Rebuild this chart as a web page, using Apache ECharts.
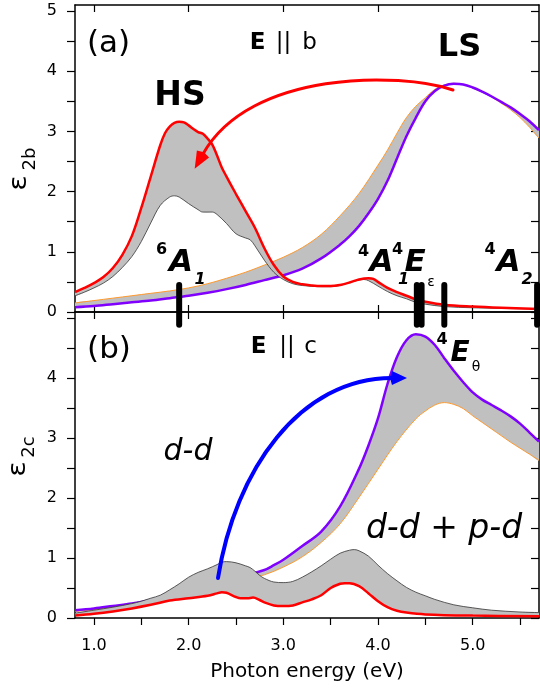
<!DOCTYPE html>
<html><head><meta charset="utf-8">
<script src="https://cdn.jsdelivr.net/npm/echarts@6/dist/echarts.min.js"></script>
<style>html,body{margin:0;padding:0;background:#fff}#c{width:540px;height:692px}</style>
</head><body><div id="c"></div>
<script>
const FONT = "'DejaVu Sans', 'Liberation Sans', Arial, sans-serif";
const SMOOTH = 0.35;

// ---------- Panel (a): E || b ----------
const hsB_red = [[0.8,0.33],[0.9,0.40],[1.0,0.48],[1.1,0.58],[1.2,0.73],[1.3,0.95],[1.4,1.26],[1.5,1.73],[1.6,2.25],[1.7,2.77],[1.75,2.97],[1.8,3.08],[1.85,3.14],[1.9,3.16],[1.95,3.15],[2.0,3.10],[2.05,3.04],[2.1,2.99],[2.15,2.96],[2.2,2.88],[2.25,2.78],[2.3,2.60],[2.35,2.40],[2.4,2.25],[2.5,1.96],[2.6,1.68],[2.7,1.40],[2.8,1.06],[2.9,0.78],[3.0,0.59],[3.1,0.50],[3.2,0.46],[3.3,0.44],[3.4,0.43],[3.5,0.43],[3.6,0.45],[3.7,0.49],[3.8,0.54],[3.9,0.56],[3.95,0.55],[4.0,0.50],[4.1,0.40],[4.2,0.33],[4.3,0.27],[4.4,0.21],[4.5,0.17],[4.7,0.12],[5.0,0.09],[5.3,0.07],[5.7,0.05]];
const hsB_black = [[0.8,0.27],[0.9,0.33],[1.0,0.40],[1.1,0.48],[1.2,0.59],[1.3,0.74],[1.4,0.92],[1.5,1.17],[1.6,1.48],[1.7,1.77],[1.8,1.91],[1.85,1.93],[1.9,1.91],[2.0,1.80],[2.1,1.70],[2.15,1.66],[2.25,1.66],[2.3,1.62],[2.4,1.47],[2.5,1.30],[2.6,1.23],[2.65,1.20],[2.7,1.10],[2.8,0.86],[2.9,0.66],[3.0,0.54],[3.1,0.47],[3.2,0.44],[3.4,0.42],[3.5,0.42],[3.6,0.44],[3.7,0.49],[3.8,0.53],[3.85,0.54],[3.9,0.52],[4.0,0.43],[4.1,0.34],[4.2,0.27],[4.3,0.22],[4.4,0.16],[4.5,0.13],[4.7,0.09],[5.0,0.07],[5.3,0.06],[5.7,0.05]];
const lsB_orange = [[0.8,0.15],[1.0,0.19],[1.2,0.23],[1.4,0.27],[1.6,0.31],[1.8,0.35],[2.0,0.40],[2.2,0.47],[2.4,0.56],[2.6,0.66],[2.8,0.78],[3.0,0.91],[3.2,1.07],[3.4,1.29],[3.6,1.60],[3.8,1.97],[4.0,2.44],[4.1,2.69],[4.2,2.97],[4.3,3.23],[4.4,3.42],[4.5,3.56],[4.6,3.70],[4.7,3.77],[4.8,3.80],[4.9,3.78],[5.0,3.72],[5.1,3.65],[5.2,3.57],[5.3,3.47],[5.4,3.36],[5.5,3.23],[5.6,3.07],[5.7,2.89]];
const lsB_purple = [[0.8,0.08],[1.0,0.10],[1.2,0.13],[1.4,0.16],[1.6,0.19],[1.8,0.23],[2.0,0.27],[2.2,0.32],[2.4,0.38],[2.6,0.45],[2.8,0.53],[3.0,0.61],[3.2,0.72],[3.4,0.89],[3.6,1.12],[3.7,1.26],[3.8,1.43],[3.9,1.64],[4.0,1.88],[4.1,2.18],[4.2,2.55],[4.3,2.92],[4.4,3.23],[4.5,3.50],[4.6,3.67],[4.7,3.76],[4.8,3.79],[4.9,3.78],[5.0,3.73],[5.1,3.66],[5.2,3.58],[5.3,3.49],[5.4,3.40],[5.5,3.29],[5.6,3.17],[5.7,3.02]];

// ---------- Panel (b): E || c ----------
const hsC_red = [[0.8,0.04],[1.0,0.07],[1.2,0.11],[1.4,0.16],[1.6,0.22],[1.8,0.29],[2.0,0.33],[2.2,0.37],[2.3,0.41],[2.35,0.43],[2.4,0.42],[2.5,0.35],[2.55,0.33],[2.62,0.33],[2.68,0.34],[2.75,0.30],[2.8,0.26],[2.9,0.21],[3.0,0.20],[3.1,0.21],[3.2,0.26],[3.3,0.31],[3.4,0.38],[3.5,0.50],[3.6,0.57],[3.65,0.58],[3.7,0.58],[3.8,0.53],[3.9,0.41],[4.0,0.28],[4.1,0.18],[4.2,0.12],[4.3,0.09],[4.5,0.06],[5.0,0.04],[5.7,0.03]];
const hsC_black = [[0.8,0.08],[1.0,0.13],[1.2,0.18],[1.4,0.24],[1.5,0.28],[1.6,0.33],[1.7,0.38],[1.8,0.47],[1.9,0.57],[2.0,0.68],[2.1,0.76],[2.2,0.82],[2.3,0.89],[2.35,0.93],[2.4,0.94],[2.5,0.92],[2.6,0.87],[2.65,0.84],[2.7,0.78],[2.75,0.71],[2.8,0.66],[2.9,0.60],[3.0,0.59],[3.1,0.61],[3.2,0.68],[3.3,0.77],[3.4,0.87],[3.5,0.98],[3.6,1.08],[3.7,1.13],[3.75,1.14],[3.8,1.12],[3.9,1.03],[4.0,0.88],[4.1,0.74],[4.2,0.62],[4.3,0.51],[4.4,0.43],[4.5,0.37],[4.6,0.31],[4.8,0.22],[5.0,0.17],[5.2,0.13],[5.5,0.10],[5.7,0.09]];
const lsC_orange = [[0.8,0.11],[1.0,0.14],[1.2,0.18],[1.4,0.22],[1.6,0.27],[1.8,0.34],[2.0,0.42],[2.2,0.50],[2.4,0.58],[2.6,0.65],[2.8,0.72],[3.0,0.85],[3.2,1.02],[3.4,1.26],[3.6,1.57],[3.8,2.01],[4.0,2.48],[4.2,2.94],[4.4,3.32],[4.5,3.45],[4.6,3.55],[4.7,3.59],[4.8,3.56],[4.9,3.49],[5.0,3.37],[5.1,3.26],[5.2,3.15],[5.3,3.04],[5.4,2.93],[5.5,2.83],[5.6,2.73],[5.7,2.63]];
const lsC_purple = [[0.8,0.13],[1.0,0.16],[1.2,0.20],[1.4,0.24],[1.6,0.30],[1.8,0.38],[2.0,0.46],[2.2,0.55],[2.4,0.64],[2.6,0.71],[2.8,0.80],[2.9,0.88],[3.0,0.97],[3.2,1.20],[3.4,1.44],[3.6,1.86],[3.8,2.49],[3.9,2.88],[4.0,3.33],[4.1,3.90],[4.2,4.35],[4.3,4.63],[4.4,4.73],[4.5,4.69],[4.6,4.55],[4.7,4.33],[4.8,4.12],[4.9,3.93],[5.0,3.76],[5.1,3.64],[5.2,3.55],[5.3,3.46],[5.4,3.36],[5.5,3.24],[5.6,3.09],[5.7,2.94]];

// transition energies (vertical markers)
const transitionE = [1.90, 4.41, 4.46, 4.70, 5.68];

// axis ticks / labels
const xMajor = [1, 2, 3, 4, 5];
const xMinor = [1, 1.5, 2, 2.5, 3, 3.5, 4, 4.5, 5, 5.5];
const yTicks = [0, 0.5, 1, 1.5, 2, 2.5, 3, 3.5, 4, 4.5, 5];
const yLabelsA = [0, 1, 2, 3, 4, 5];
const yLabelsB = [0, 1, 2, 3, 4];

const BLACK = '#000';
const GREY = '#c0c0c0';
const RED = '#ff0000';
const PURPLE = '#8000ff';
const ORANGE = '#ff9a2e';
const THIN = '#333333';

function xAx(grid, pos, inside, ticks, labels, extra) {
  return Object.assign({
    type: 'value', gridIndex: grid, position: pos, min: 0.8, max: 5.7,
    axisLine: { show: true, onZero: false, lineStyle: { color: BLACK, width: 1.5 } },
    axisTick: { show: true, inside: inside, length: 7, customValues: ticks, lineStyle: { color: BLACK, width: 1.2 } },
    axisLabel: labels ? { show: true, customValues: labels, formatter: v => Number(v).toFixed(1), fontSize: 16, fontFamily: FONT, color: BLACK, margin: 20 } : { show: false },
    splitLine: { show: false }
  }, extra || {});
}
function yAx(grid, pos, inside, labels) {
  return {
    type: 'value', gridIndex: grid, position: pos, min: 0, max: 5.1,
    axisLine: { show: true, onZero: false, lineStyle: { color: BLACK, width: 1.5 } },
    axisTick: { show: true, inside: inside, length: 8, customValues: yTicks, lineStyle: { color: BLACK, width: 1.2 } },
    axisLabel: labels ? { show: true, customValues: labels, fontSize: 16, fontFamily: FONT, color: BLACK, margin: 18 } : { show: false },
    splitLine: { show: false }
  };
}

function band(upper, lower, xi, yi, z) {
  return {
    type: 'custom', xAxisIndex: xi, yAxisIndex: yi, z: z, silent: true, clip: true,
    data: [[upper[0][0], upper[0][1]]],
    renderItem: function (params, api) {
      const pts = upper.map(p => api.coord(p)).concat(lower.slice().reverse().map(p => api.coord(p)));
      return { type: 'polygon', shape: { points: pts, smooth: SMOOTH }, style: { fill: GREY } };
    }
  };
}
function line(data, color, width, xi, yi, z) {
  return {
    type: 'line', data: data, xAxisIndex: xi, yAxisIndex: yi, z: z,
    showSymbol: false, symbol: 'none', smooth: SMOOTH, silent: true,
    lineStyle: { color: color, width: width }
  };
}

const markers = {
  type: 'custom', xAxisIndex: 0, yAxisIndex: 0, z: 20, clip: false, silent: true,
  data: transitionE.map(e => [e, 0]),
  renderItem: function (params, api) {
    const e = api.value(0);
    const p1 = api.coord([e, 0.45]);
    const p2 = api.coord([e, -0.21]);
    return { type: 'line', shape: { x1: p1[0], y1: p1[1], x2: p2[0], y2: p2[1] },
      style: { stroke: BLACK, lineWidth: 6, lineCap: 'round' } };
  }
};

// ---------- annotations ----------
function txt(x, y, s, size, weight, fstyle, extra) {
  return Object.assign({
    type: 'text', x: x, y: y, z: 100, silent: true,
    style: { text: s, fill: BLACK, font: (fstyle || 'normal') + ' ' + (weight || 'normal') + ' ' + size + 'px ' + FONT,
      align: 'center', verticalAlign: 'middle', textAlign: 'center', textVerticalAlign: 'middle' }
  }, extra || {});
}
function arrow(p0, c1, c2, p3, color, lw, headLen, headHalf) {
  const dx = p3[0] - c2[0], dy = p3[1] - c2[1];
  const L = Math.sqrt(dx * dx + dy * dy);
  const ux = dx / L, uy = dy / L;
  const tip = [p3[0] + ux * headLen, p3[1] + uy * headLen];
  const b1 = [p3[0] - uy * headHalf, p3[1] + ux * headHalf];
  const b2 = [p3[0] + uy * headHalf, p3[1] - ux * headHalf];
  return [
    { type: 'bezierCurve', z: 90, silent: true,
      shape: { x1: p0[0], y1: p0[1], cpx1: c1[0], cpy1: c1[1], cpx2: c2[0], cpy2: c2[1], x2: p3[0], y2: p3[1] },
      style: { stroke: color, lineWidth: lw, fill: null, lineCap: 'round' } },
    { type: 'polygon', z: 91, silent: true, shape: { points: [tip, b1, [p3[0] - ux * 2, p3[1] - uy * 2], b2] }, style: { fill: color } }
  ];
}

const graphics = [
  // y-axis titles
  txt(20, 183, '\u03b5', 24, 'normal', 'normal', { rotation: Math.PI / 2, scaleX: 1.2 }),
  txt(30, 159, '2b', 18, 'normal', 'normal', { rotation: Math.PI / 2 }),
  txt(19, 469, '\u03b5', 24, 'normal', 'normal', { rotation: Math.PI / 2, scaleX: 1.2 }),
  txt(29, 447, '2c', 18, 'normal', 'normal', { rotation: Math.PI / 2 }),
  // panel (a)
  txt(108.5, 44, '(a)', 31),
  txt(257.5, 43, 'E', 23, 'bold'),
  txt(283.5, 43, '||', 23),
  txt(309.5, 43, 'b', 23),
  txt(180, 96, 'HS', 33, 'bold'),
  txt(459.5, 48, 'LS', 32, 'bold'),
  txt(161.5, 250, '6', 16, 'bold'),
  txt(181, 263, 'A', 31, 'bold', 'italic'),
  txt(200, 280, '1', 16, 'bold', 'italic'),
  txt(363.5, 252, '4', 16, 'bold'),
  txt(381.5, 263, 'A', 31, 'bold', 'italic'),
  txt(403.5, 280, '1', 16, 'bold', 'italic'),
  txt(397.5, 250, '4', 16, 'bold'),
  txt(415, 263, 'E', 31, 'bold', 'italic'),
  txt(431, 282.5, '\u03b5', 14),
  txt(490, 250, '4', 16, 'bold'),
  txt(508.5, 263, 'A', 31, 'bold', 'italic'),
  txt(527, 280, '2', 16, 'bold', 'italic'),
  // panel (b)
  txt(109, 350, '(b)', 31),
  txt(258.5, 347, 'E', 23, 'bold'),
  txt(287, 347, '||', 23),
  txt(310.5, 347, 'c', 23),
  txt(442, 340, '4', 16, 'bold'),
  txt(460, 353.5, 'E', 28, 'bold', 'italic'),
  txt(476, 367.5, '\u03b8', 14),
  txt(188, 452, 'd-d', 30, 'normal', 'italic'),
  txt(444, 529, 'd-d + p-d', 33, 'normal', 'italic')
].concat(
  arrow([453, 90], [400, 72], [250, 70], [203, 154], RED, 3, 17, 7),
  arrow([218, 578], [235, 470], [300, 378], [392, 378], '#0000ff', 4, 15, 7)
);

const chart = echarts.init(document.getElementById('c'), null, { renderer: 'canvas' });
chart.setOption({
  animation: false,
  backgroundColor: '#ffffff',
  grid: [
    { left: 75, top: 5, width: 464, height: 307 },
    { left: 75, top: 312, width: 464, height: 306 }
  ],
  xAxis: [
    xAx(0, 'bottom', true, xMajor, null),
    xAx(0, 'top', true, xMajor, null),
    xAx(1, 'bottom', false, xMinor, xMajor, {
      name: 'Photon energy (eV)', nameLocation: 'middle', nameGap: 44,
      nameTextStyle: { fontSize: 20, fontFamily: FONT, color: BLACK }
    }),
    xAx(1, 'top', true, xMajor, null)
  ],
  yAxis: [
    yAx(0, 'left', false, yLabelsA),
    yAx(0, 'right', true, null),
    yAx(1, 'left', false, yLabelsB),
    yAx(1, 'right', true, null)
  ],
  series: [
    band(lsB_orange, lsB_purple, 0, 0, 1),
    line(lsB_orange, ORANGE, 1, 0, 0, 2),
    line(lsB_purple, PURPLE, 2.5, 0, 0, 2),
    band(hsB_red, hsB_black, 0, 0, 3),
    line(hsB_black, THIN, 0.8, 0, 0, 4),
    line(hsB_red, RED, 2.5, 0, 0, 4),
    band(lsC_purple, lsC_orange, 2, 2, 1),
    line(lsC_orange, ORANGE, 1, 2, 2, 2),
    line(lsC_purple, PURPLE, 2.5, 2, 2, 2),
    band(hsC_black, hsC_red, 2, 2, 3),
    line(hsC_black, THIN, 0.8, 2, 2, 4),
    line(hsC_red, RED, 2.5, 2, 2, 4),
    markers
  ],
  graphic: { elements: graphics }
});
</script>
</body></html>
